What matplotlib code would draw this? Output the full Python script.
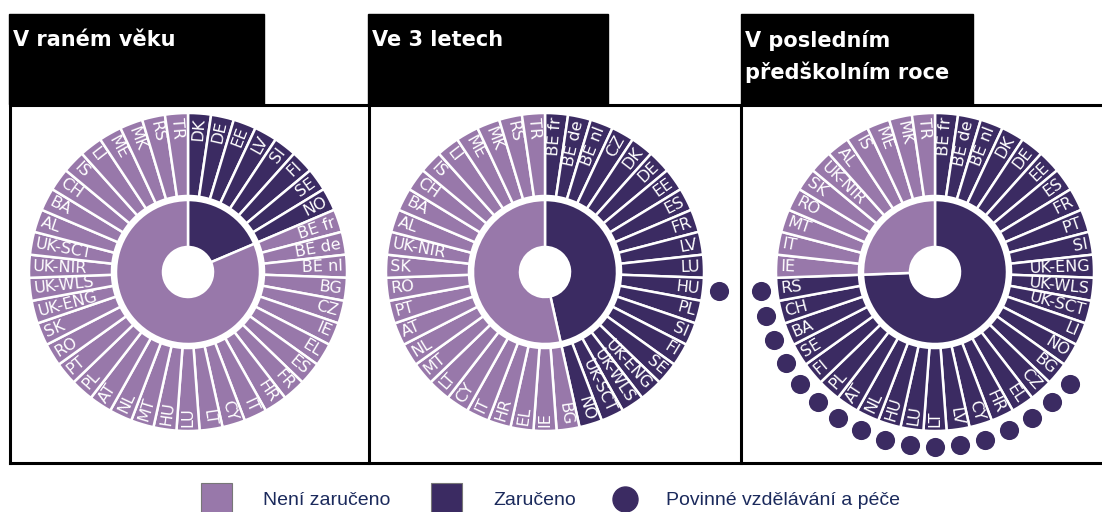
import numpy as np
import matplotlib.pyplot as plt
from matplotlib.patches import Rectangle
from matplotlib.lines import Line2D

# Data: countries clockwise from 12 o'clock, flag 1 = guaranteed (Zaručeno)
titles = ['V raném věku', 'Ve 3 letech', 'V posledním\npředškolním roce']

countries_early = ['DK', 'DE', 'EE', 'LV', 'SI', 'FI', 'SE', 'NO',
                   'BE fr', 'BE de', 'BE nl', 'BG', 'CZ', 'IE', 'EL', 'ES', 'FR', 'HR',
                   'IT', 'CY', 'LT', 'LU', 'HU', 'MT', 'NL', 'AT', 'PL', 'PT', 'RO', 'SK',
                   'UK-ENG', 'UK-WLS', 'UK-NIR', 'UK-SCT', 'AL', 'BA', 'CH', 'IS', 'LI',
                   'ME', 'MK', 'RS', 'TR']
guaranteed_early = [1] * 8 + [0] * 35
compulsory_early = [0] * 43

countries_age3 = ['BE fr', 'BE de', 'BE nl', 'CZ', 'DK', 'DE', 'EE', 'ES', 'FR', 'LV',
                  'LU', 'HU', 'PL', 'SI', 'FI', 'SE', 'UK-ENG', 'UK-WLS', 'UK-SCT', 'NO',
                  'BG', 'IE', 'EL', 'HR', 'IT', 'CY', 'LT', 'MT', 'NL', 'AT', 'PT', 'RO',
                  'SK', 'UK-NIR', 'AL', 'BA', 'CH', 'IS', 'LI', 'ME', 'MK', 'RS', 'TR']
guaranteed_age3 = [1] * 20 + [0] * 23
compulsory_age3 = [0] * 11 + [1] + [0] * 31

countries_last = ['BE fr', 'BE de', 'BE nl', 'DK', 'DE', 'EE', 'ES', 'FR', 'PT', 'SI',
                  'UK-ENG', 'UK-WLS', 'UK-SCT', 'LI', 'NO', 'BG', 'CZ', 'EL', 'HR', 'CY',
                  'LV', 'LT', 'LU', 'HU', 'NL', 'AT', 'PL', 'FI', 'SE', 'BA', 'CH', 'RS',
                  'IE', 'IT', 'MT', 'RO', 'SK', 'UK-NIR', 'AL', 'IS', 'ME', 'MK', 'TR']
guaranteed_last = [1] * 32 + [0] * 11
compulsory_last = [0] * 15 + [1] * 17 + [0] * 11

panels = [(countries_early, guaranteed_early, compulsory_early),
          (countries_age3, guaranteed_age3, compulsory_age3),
          (countries_last, guaranteed_last, compulsory_last)]

LIGHT = '#9878aa'
DARK = '#3b2b62'
W, H = 1102, 512

fig = plt.figure(figsize=(W / 100, H / 100), dpi=100)

# pixel coords -> figure fraction
def fx(x):
    return x / W

def fy(y):
    return 1 - y / H

# header boxes
header_x = [(9, 264), (368, 608), (741, 973)]
for (x0, x1), title in zip(header_x, titles):
    fig.patches.append(Rectangle((fx(x0), fy(104)), fx(x1 - x0), (104 - 14) / H,
                                 transform=fig.transFigure, color='black', zorder=0))
    fig.text(fx(x0 + 4), fy(30), title, color='white', fontsize=15,
             fontweight='bold', family='DejaVu Sans', va='top', ha='left',
             linespacing=1.6)

# panel frame
frame = dict(color='black', lw=2.2, transform=fig.transFigure)
fig.lines.append(Line2D([fx(10), 1], [fy(104.5), fy(104.5)], **frame))
fig.lines.append(Line2D([fx(10), 1], [fy(463), fy(463)], **frame))
for x in [10, 368.5, 741]:
    fig.lines.append(Line2D([fx(x), fx(x)], [fy(104.5), fy(463)], **frame))

# wheels
centers = [(188, 272), (545, 272), (935, 272)]
R_AX = 190  # axes radius in pixels, data radius in pixels
for (cx, cy), (names, guar, comp) in zip(centers, panels):
    ax = fig.add_axes([fx(cx - R_AX), fy(cy + R_AX), 2 * R_AX / W, 2 * R_AX / H],
                      projection='polar')
    ax.set_theta_zero_location('N')
    ax.set_theta_direction(-1)
    ax.set_ylim(0, R_AX)
    ax.axis('off')

    n = len(names)
    step = 2 * np.pi / n
    theta = np.arange(n) * step
    colors = [DARK if g else LIGHT for g in guar]

    # outer ring
    ax.bar(theta, 83, width=step, bottom=76, align='edge', color=colors,
           edgecolor='white', linewidth=1.8)

    # inner pie: share of guaranteed
    n_dark = sum(guar)
    ax.bar([0, n_dark * step], 47, width=[n_dark * step, (n - n_dark) * step],
           bottom=25, align='edge', color=[DARK, LIGHT], edgecolor='white',
           linewidth=1.8)

    # compulsory dots
    idx = [i for i, c in enumerate(comp) if c]
    if idx:
        ax.scatter(theta[idx] + step / 2, [175] * len(idx), s=190, color=DARK,
                   linewidths=0, clip_on=False)

    # labels
    for i, name in enumerate(names):
        a = np.degrees(theta[i] + step / 2)
        if a < 180:
            rot, ha = 90 - a, 'right'
        else:
            rot, ha = 270 - a, 'left'
        ax.text(np.radians(a), 155, name, rotation=rot, ha=ha, va='center',
                rotation_mode='anchor', color='white', fontsize=11.5,
                family=['Liberation Sans Narrow', 'DejaVu Sans'])

# legend
legend_items = ['Není zaručeno', 'Zaručeno', 'Povinné vzdělávání a péče']
TXT = '#1b2a5c'
fig.patches.append(Rectangle((fx(201), fy(514)), fx(31), 31 / H, transform=fig.transFigure,
                             facecolor=LIGHT, edgecolor='#777777', lw=0.8))
fig.text(fx(263), fy(505), legend_items[0], color=TXT, fontsize=14,
         family='Liberation Sans', va='baseline')
fig.patches.append(Rectangle((fx(431), fy(514)), fx(31), 31 / H, transform=fig.transFigure,
                             facecolor=DARK, edgecolor='#777777', lw=0.8))
fig.text(fx(493), fy(505), legend_items[1], color=TXT, fontsize=14,
         family='Liberation Sans', va='baseline')
fig.lines.append(Line2D([fx(625)], [fy(499)], marker='o', markersize=18, color=DARK,
                        transform=fig.transFigure, lw=0))
fig.text(fx(666), fy(505), legend_items[2], color=TXT, fontsize=14,
         family='Liberation Sans', va='baseline')

fig.savefig('out.png', dpi=100)
